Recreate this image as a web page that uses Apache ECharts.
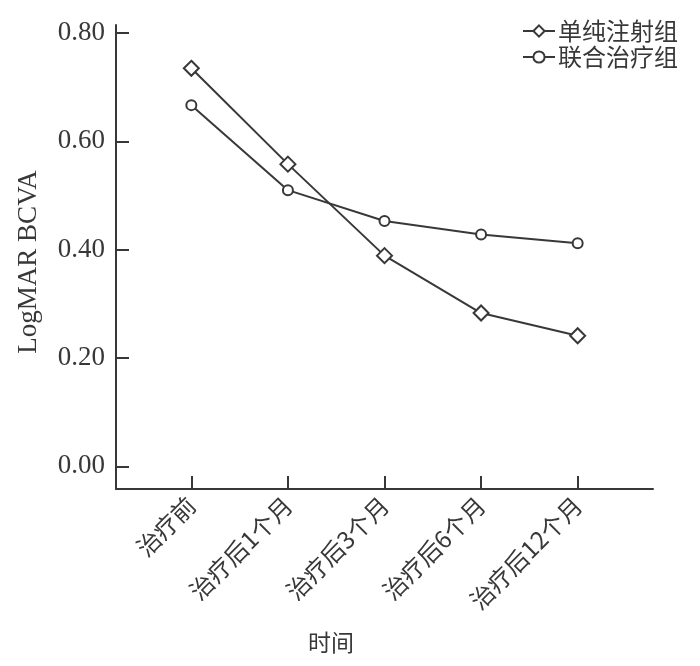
<!DOCTYPE html>
<html><head><meta charset="utf-8">
<script src="https://cdn.jsdelivr.net/npm/echarts@6/dist/echarts.min.js"></script>
<style>html,body{margin:0;padding:0;background:#fff}#c{width:700px;height:666px}</style>
</head><body><div id="c"></div>
<script>
const categories = ['治疗前', '治疗后1个月', '治疗后3个月', '治疗后6个月', '治疗后12个月'];
const injectionOnly = [0.735, 0.558, 0.389, 0.283, 0.241];
const combined = [0.667, 0.510, 0.453, 0.428, 0.412];
const yTicks = [0, 0.2, 0.4, 0.6, 0.8];
const seriesNames = ['单纯注射组', '联合治疗组'];

const ink = '#383838';
const chart = echarts.init(document.getElementById('c'), null, {renderer: 'canvas'});
chart.setOption({
  animation: false,
  backgroundColor: '#fff',
  title: {
    text: '时间', left: 308, top: 631, padding: 0,
    textStyle: {fontFamily: 'Noto Sans CJK SC', fontSize: 23, fontWeight: 'normal', color: ink}
  },
  legend: {
    orient: 'vertical', right: 22, top: 19, itemGap: 2, itemWidth: 32, itemHeight: 14, padding: 0,
    data: seriesNames,
    textStyle: {fontFamily: 'Noto Sans CJK SC', fontSize: 24, color: ink, padding: [0,0,0,-2]}
  },
  grid: {left: 116, right: 47, top: 25, bottom: 177, containLabel: false},
  xAxis: {
    type: 'value', min: -0.78, max: 4.78,
    splitLine: {show: false},
    axisLine: {show: true, onZero: false, lineStyle: {color: ink, width: 2}},
    axisTick: {show: true, inside: true, length: 13, customValues: categories.map((c, i) => i), lineStyle: {color: ink, width: 2}},
    axisLabel: {
      show: true, rotate: 45, margin: 12, customValues: categories.map((c, i) => i),
      formatter: v => categories[Math.round(v)],
      fontFamily: 'Noto Sans CJK SC', fontSize: 24, color: ink
    }
  },
  yAxis: {
    type: 'value', min: -0.042, max: 0.815,
    name: 'LogMAR BCVA', nameLocation: 'middle', nameGap: 74,
    nameTextStyle: {fontFamily: 'Liberation Serif', fontSize: 27, color: ink, padding: [0, 10, 0, 0]},
    splitLine: {show: false},
    axisLine: {show: true, onZero: false, lineStyle: {color: ink, width: 2}},
    axisTick: {show: true, inside: true, length: 13, customValues: yTicks, lineStyle: {color: ink, width: 2}},
    axisLabel: {
      show: true, margin: 11, customValues: yTicks,
      formatter: v => v.toFixed(2),
      fontFamily: 'Liberation Serif', fontSize: 27, color: ink
    }
  },
  series: [
    {
      name: seriesNames[0], type: 'line',
      data: injectionOnly.map((v, i) => [i, v]),
      symbol: 'diamond', symbolSize: 15,
      lineStyle: {color: ink, width: 2},
      itemStyle: {color: '#fff', borderColor: ink, borderWidth: 2}
    },
    {
      name: seriesNames[1], type: 'line',
      data: combined.map((v, i) => [i, v]),
      symbol: 'circle', symbolSize: 10,
      lineStyle: {color: ink, width: 2},
      itemStyle: {color: '#fff', borderColor: ink, borderWidth: 2}
    }
  ]
});
</script></body></html>
